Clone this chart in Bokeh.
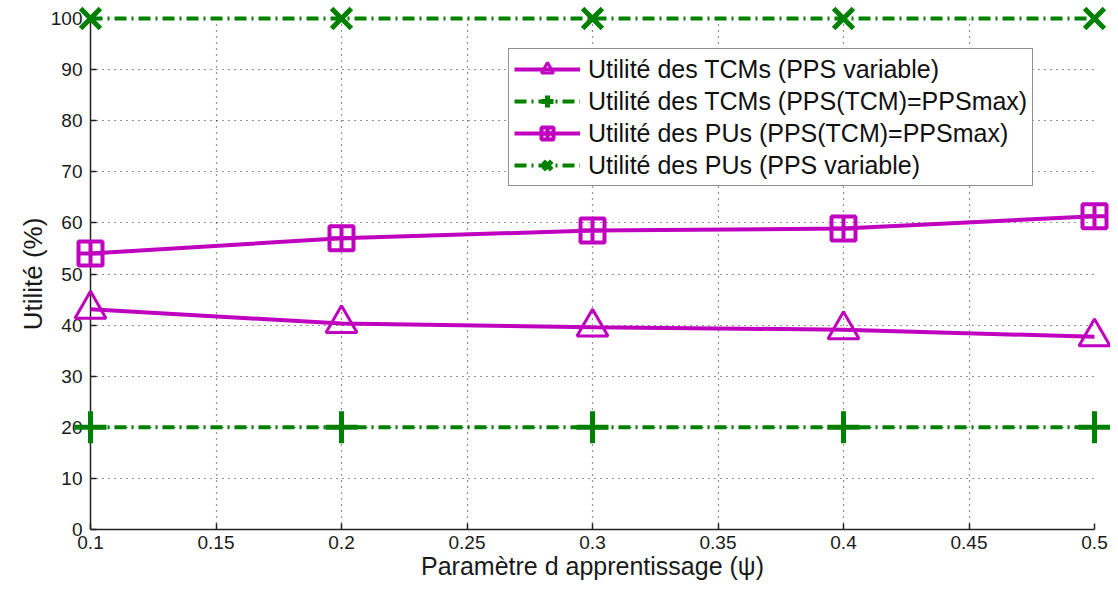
from bokeh.plotting import figure
from bokeh.models import Range1d, FixedTicker, Legend, LegendItem
from bokeh.embed import file_html
from bokeh.resources import INLINE

# ---- data ----
x_vals = [0.1, 0.2, 0.3, 0.4, 0.5]
tcm_pps_var = [43.1, 40.3, 39.6, 39.1, 37.7]
tcm_pps_max = [20, 20, 20, 20, 20]
pu_pps_max = [54.0, 57.0, 58.5, 58.9, 61.3]
pu_pps_var = [100, 100, 100, 100, 100]

x_ticks = [0.1, 0.15, 0.2, 0.25, 0.3, 0.35, 0.4, 0.45, 0.5]
x_tick_labels = ["0.1", "0.15", "0.2", "0.25", "0.3", "0.35", "0.4", "0.45", "0.5"]
y_ticks = [0, 10, 20, 30, 40, 50, 60, 70, 80, 90, 100]

series_names = [
    "Utilité des TCMs (PPS variable)",
    "Utilité des TCMs (PPS(TCM)=PPSmax)",
    "Utilité des PUs (PPS(TCM)=PPSmax)",
    "Utilité des PUs (PPS variable)",
]
x_label = "Paramètre d apprentissage (ψ)"
y_label = "Utilité (%)"

MAG = "#BF00BF"
GRN = "#008000"
FONT = "Liberation Sans"

p = figure(width=1110, height=583, output_backend="svg", toolbar_location=None,
           x_range=Range1d(0.1, 0.5), y_range=Range1d(0, 100),
           min_border_left=90, min_border_right=16, min_border_top=18, min_border_bottom=54)
p.outline_line_color = None
p.background_fill_color = "white"
p.border_fill_color = "white"

for ax in (p.xaxis[0], p.yaxis[0]):
    ax.major_tick_in = 6
    ax.major_tick_out = 0
    ax.minor_tick_in = 0
    ax.minor_tick_out = 0
    ax.axis_line_color = "#222222"
    ax.axis_line_width = 1.5
    ax.major_tick_line_color = "#222222"
    ax.major_tick_line_width = 1.5
    ax.major_label_text_font = FONT
    ax.major_label_text_font_size = "19px"
    ax.major_label_text_color = "#1a1a1a"
    ax.axis_label_text_font = FONT
    ax.axis_label_text_font_size = "26px"
    ax.axis_label_text_font_style = "normal"
    ax.axis_label_text_color = "#1a1a1a"

p.xaxis.axis_label_text_font_size = "25px"
p.xaxis.ticker = FixedTicker(ticks=x_ticks)
p.xaxis.major_label_overrides = {t: s for t, s in zip(x_ticks, x_tick_labels)}
p.yaxis.ticker = FixedTicker(ticks=y_ticks)
p.xaxis.axis_label = x_label
p.yaxis.axis_label = y_label
p.xaxis.major_label_standoff = 6
p.xaxis.axis_label_standoff = 0
p.yaxis.major_label_standoff = 8
p.yaxis.axis_label_standoff = 0

for g in (p.xgrid[0], p.ygrid[0]):
    g.grid_line_color = "black"
    g.grid_line_dash = "1 5"
    g.grid_line_width = 1.2
    g.grid_line_alpha = 0.85

# series 1: TCMs PPS variable (magenta, triangles)
l1 = p.line(x_vals, tcm_pps_var, line_color=MAG, line_width=4, level="overlay")
m1 = p.scatter(x_vals, tcm_pps_var, marker="triangle", size=31, fill_color=None,
               line_color=MAG, line_width=3, level="overlay")
# series 2: TCMs PPS max (green, +)
l2 = p.line(x_vals, tcm_pps_max, line_color=GRN, line_width=4, line_dash="12 5 2 5", level="overlay")
m2 = p.scatter(x_vals, tcm_pps_max, marker="cross", size=32, line_color=GRN, line_width=5, level="overlay")
# series 3: PUs PPS max (magenta, squares)
l3 = p.line(x_vals, pu_pps_max, line_color=MAG, line_width=4, level="overlay")
m3 = p.scatter(x_vals, pu_pps_max, marker="square_cross", size=24, fill_color=None,
               line_color=MAG, line_width=4, level="overlay")
# series 4: PUs PPS variable (green, x)
l4 = p.line(x_vals, pu_pps_var, line_color=GRN, line_width=4, line_dash="12 5 2 5", level="overlay")
m4 = p.scatter(x_vals, pu_pps_var, marker="x", size=28, line_color=GRN, line_width=5, level="overlay")

legend = Legend(items=[
    LegendItem(label=series_names[0], renderers=[l1, m1]),
    LegendItem(label=series_names[1], renderers=[l2, m2]),
    LegendItem(label=series_names[2], renderers=[l3, m3]),
    LegendItem(label=series_names[3], renderers=[l4, m4]),
], location=(418, 343))
legend.label_text_font = FONT
legend.label_text_font_size = "25px"
legend.label_text_color = "#111111"
legend.glyph_width = 66
legend.glyph_height = 30
legend.label_height = 30
legend.label_standoff = 8
legend.spacing = 2
legend.padding = 5
legend.margin = 0
legend.border_line_color = "#222222"
legend.border_line_width = 1.5
legend.background_fill_color = "white"
legend.background_fill_alpha = 1.0
p.add_layout(legend)

open("out.html", "w").write(file_html(p, INLINE))
